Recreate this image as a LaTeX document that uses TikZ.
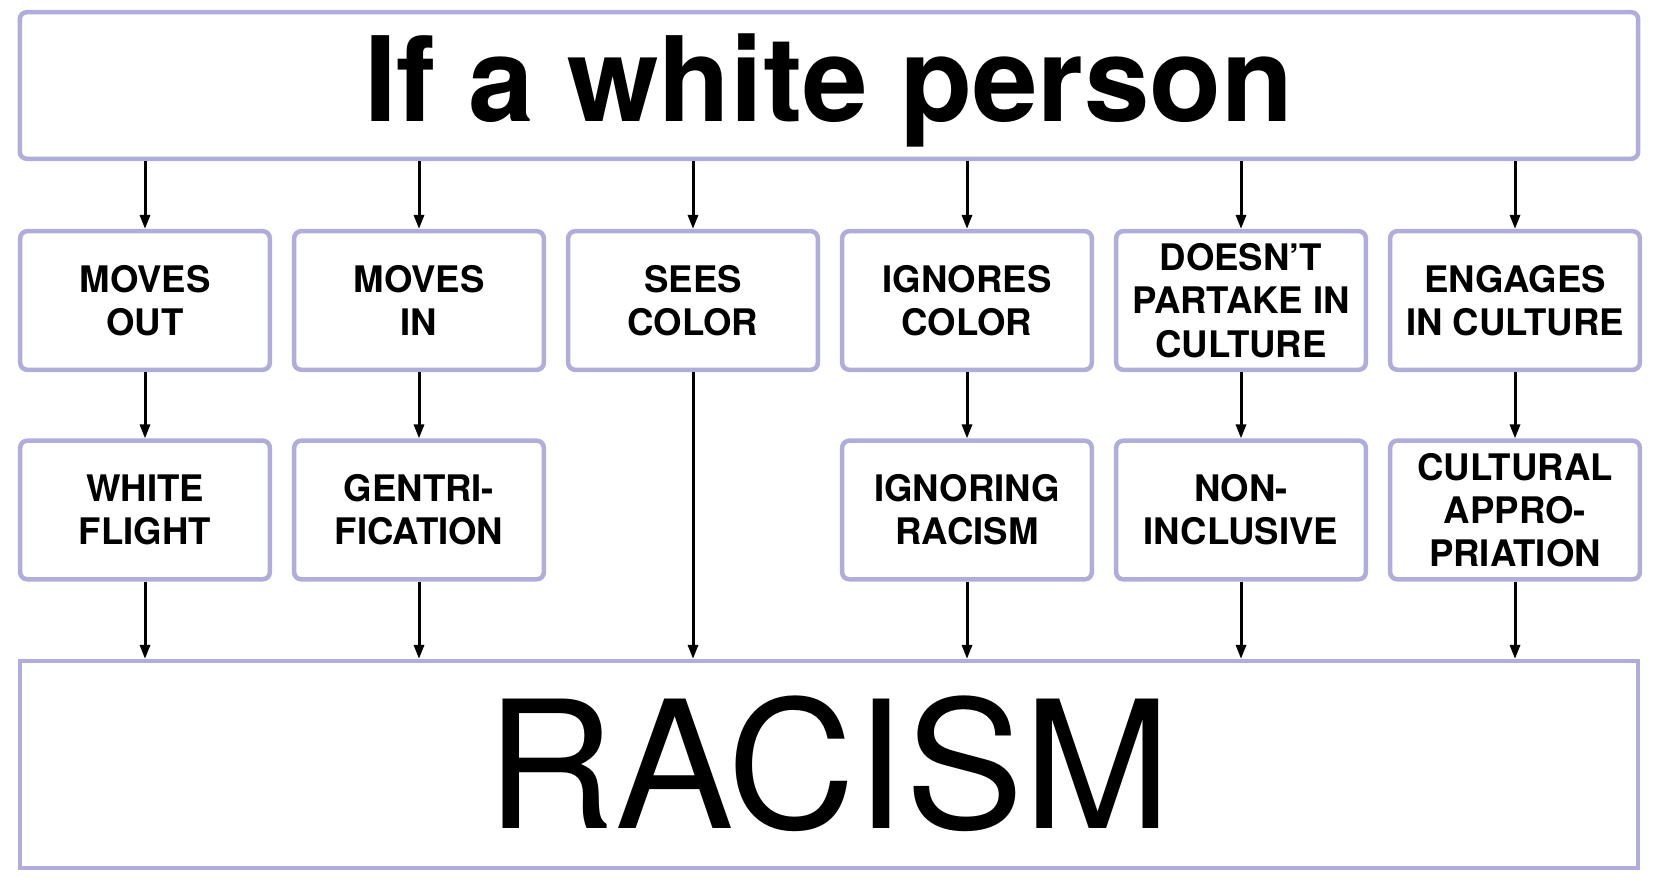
\documentclass[tikz,border=0pt]{standalone}
\usepackage{fontspec}
\setmainfont{TeX Gyre Heros}
\usetikzlibrary{arrows.meta}
\definecolor{boxline}{RGB}{176,172,220}

\begin{document}
\begin{tikzpicture}[x=0.01cm,y=-0.01cm,
    box/.style={draw=boxline, line width=0.045cm, rounded corners=0.07cm,
      minimum width=2.495cm, minimum height=1.385cm, inner sep=0pt,
      align=center, font=\fontsize{10.4}{12.3}\selectfont\bfseries},
    link/.style={-{Triangle[width=0.1cm,length=0.14cm]}, line width=0.03cm}]

    \useasboundingbox (0,0) rectangle (1660,880);

    % Top and bottom bars
    \node [box, minimum width=16.175cm, minimum height=1.465cm,
      font=\fontsize{33.5}{40}\selectfont\bfseries,
      text height=0.85cm, text depth=0.14cm] (head) at (829,85.5) {If a white person};
    \node [box, sharp corners, minimum width=16.175cm, minimum height=2.065cm,
      font=\fontsize{50.5}{60}\selectfont,
      text height=1.27cm, text depth=0cm] (racism) at (829,764.5) {RACISM};

    % For each action ...
    \foreach \n/\txt in {1/{MOVES\\OUT}, 2/{MOVES\\IN}, 3/{SEES\\COLOR},
        4/{IGNORES\\COLOR}, 5/{DOESN’T\\PARTAKE IN\\CULTURE}, 6/{ENGAGES\\IN CULTURE}} {
      \pgfmathsetmacro\x{145 + (\n-1)*274}
      \node [box] (act\n) at (\x, 300.5) {\txt};
      \draw [link] (head.south -| act\n) -- (act\n);
    }

    % ... and what it is called
    \foreach \n/\txt in {1/{WHITE\\FLIGHT}, 2/{GENTRI-\\FICATION}, 4/{IGNORING\\RACISM},
        5/{NON-\\INCLUSIVE}, 6/{CULTURAL\\APPRO-\\PRIATION}} {
      \pgfmathsetmacro\x{145 + (\n-1)*274}
      \node [box] (res\n) at (\x, 510) {\txt};
      \draw [link] (act\n) -- (res\n);
      \draw [link] (res\n) -- (racism.north -| res\n);
    }

    % Seeing color goes straight down
    \draw [link] (act3) -- (racism.north -| act3);

  \end{tikzpicture}
\end{document}
